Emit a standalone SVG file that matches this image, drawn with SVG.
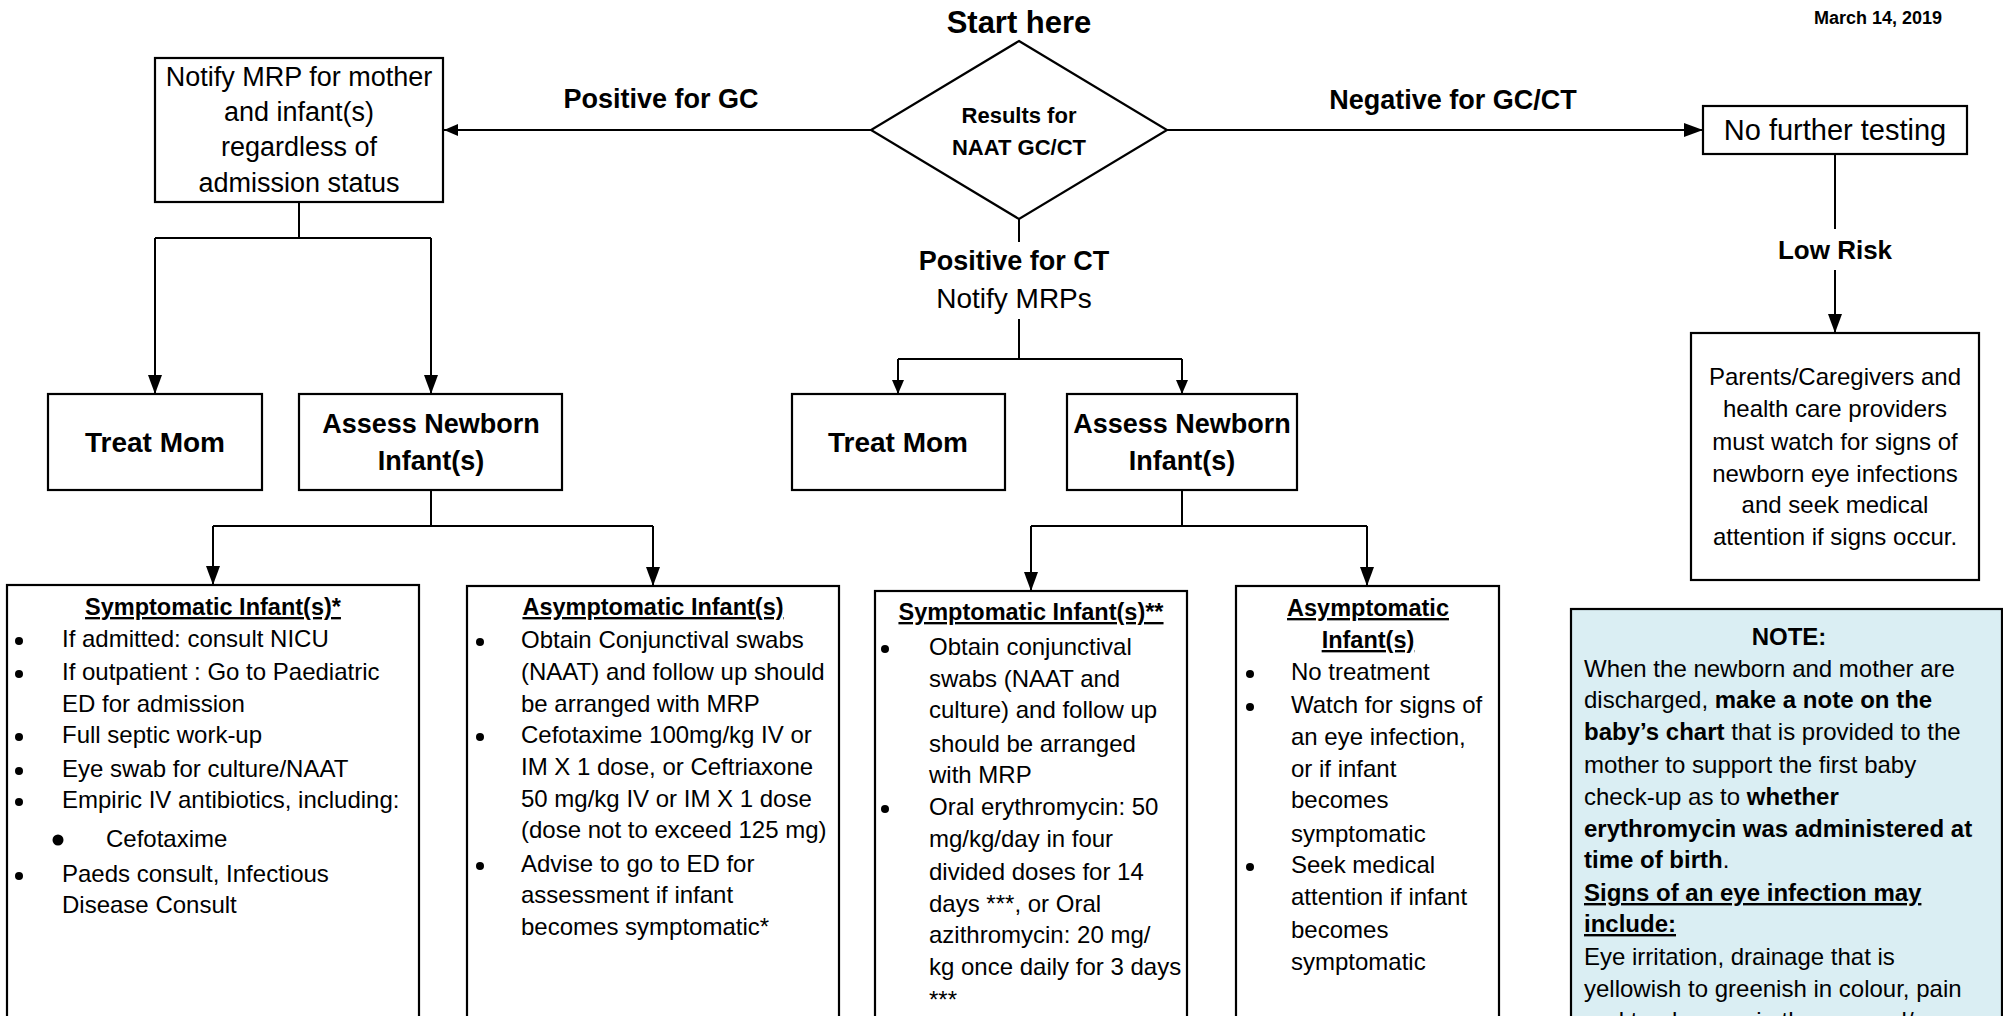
<svg xmlns="http://www.w3.org/2000/svg" width="2003" height="1016" viewBox="0 0 2003 1016">
<style>
text{font-family:"Liberation Sans",Arial,sans-serif;fill:#000;}
.box{fill:#fff;stroke:#000;stroke-width:2.2;}
.note{fill:#DAEEF3;stroke:#000;stroke-width:2.2;}
.ln{fill:none;stroke:#000;stroke-width:2;}
.bl{fill:#000;}
.c{text-anchor:middle;}
.b{font-weight:bold;}
.u{text-decoration:underline;}
.t24{font-size:24px;}
.lbl{font-size:27px;font-weight:bold;}
</style>
<defs>
<marker id="ah" markerUnits="userSpaceOnUse" markerWidth="19" markerHeight="14" viewBox="0 0 19 14" refX="19" refY="7" orient="auto"><path d="M0,0 L19,7 L0,14 z" fill="#000"/></marker>
<marker id="as" markerUnits="userSpaceOnUse" markerWidth="14" markerHeight="12" viewBox="0 0 14 12" refX="14" refY="6" orient="auto"><path d="M0,0 L14,6 L0,12 z" fill="#000"/></marker>
</defs>
<rect width="2003" height="1016" fill="#fff"/>

<text x="1942" y="24" class="b" style="font-size:18px;text-anchor:end">March 14, 2019</text>
<text x="1019" y="33" class="c b" style="font-size:31px">Start here</text>

<g id="connectors">
<line class="ln" x1="871" y1="130" x2="444" y2="130" marker-end="url(#as)"/>
<line class="ln" x1="1167" y1="130" x2="1703" y2="130" marker-end="url(#ah)"/>
<line class="ln" x1="1019" y1="219" x2="1019" y2="242"/>
<line class="ln" x1="1019" y1="319" x2="1019" y2="359"/>
<line class="ln" x1="898" y1="359" x2="1182" y2="359"/>
<line class="ln" x1="898" y1="359" x2="898" y2="394" marker-end="url(#as)"/>
<line class="ln" x1="1182" y1="359" x2="1182" y2="394" marker-end="url(#as)"/>
<line class="ln" x1="299" y1="202" x2="299" y2="238"/>
<line class="ln" x1="155" y1="238" x2="431" y2="238"/>
<line class="ln" x1="155" y1="238" x2="155" y2="394" marker-end="url(#ah)"/>
<line class="ln" x1="431" y1="238" x2="431" y2="394" marker-end="url(#ah)"/>
<line class="ln" x1="431" y1="490" x2="431" y2="526"/>
<line class="ln" x1="213" y1="526" x2="653" y2="526"/>
<line class="ln" x1="213" y1="526" x2="213" y2="585" marker-end="url(#ah)"/>
<line class="ln" x1="653" y1="526" x2="653" y2="586" marker-end="url(#ah)"/>
<line class="ln" x1="1182" y1="490" x2="1182" y2="526"/>
<line class="ln" x1="1031" y1="526" x2="1367" y2="526"/>
<line class="ln" x1="1031" y1="526" x2="1031" y2="591" marker-end="url(#ah)"/>
<line class="ln" x1="1367" y1="526" x2="1367" y2="586" marker-end="url(#ah)"/>
<line class="ln" x1="1835" y1="154" x2="1835" y2="229"/>
<line class="ln" x1="1835" y1="270" x2="1835" y2="333" marker-end="url(#ah)"/>
<text x="661" y="108" class="c lbl">Positive for GC</text>
<text x="1453" y="109" class="c lbl">Negative for GC/CT</text>
<text x="1014" y="270" class="c lbl">Positive for CT</text>
<text x="1014" y="308" class="c" style="font-size:28px">Notify MRPs</text>
<text x="1835" y="259" class="c b" style="font-size:26px">Low Risk</text>
</g>

<g id="decision">
<polygon class="box" points="1019,41 1167,130 1019,219 871,130"/>
<text x="1019" y="123" class="c b" style="font-size:22px">Results for</text>
<text x="1019" y="155" class="c b" style="font-size:22px">NAAT GC/CT</text>
</g>

<g id="notify-gc">
<rect class="box" x="155" y="58" width="288" height="144"/>
<text class="c" style="font-size:27px"><tspan x="299" y="86">Notify MRP for mother</tspan><tspan x="299" y="121">and infant(s)</tspan><tspan x="299" y="156">regardless of</tspan><tspan x="299" y="192">admission status</tspan></text>
</g>

<g id="no-further">
<rect class="box" x="1703" y="106" width="264" height="48"/>
<text x="1835" y="140" class="c" style="font-size:29px">No further testing</text>
</g>

<g id="parents">
<rect class="box" x="1691" y="333" width="288" height="247"/>
<text class="c t24"><tspan x="1835" y="385">Parents/Caregivers and</tspan><tspan x="1835" y="417">health care providers</tspan><tspan x="1835" y="450">must watch for signs of</tspan><tspan x="1835" y="482">newborn eye infections</tspan><tspan x="1835" y="513">and seek medical</tspan><tspan x="1835" y="545">attention if signs occur.</tspan></text>
</g>

<g id="treat-mom-gc">
<rect class="box" x="48" y="394" width="214" height="96"/>
<text x="155" y="452" class="c b" style="font-size:28px">Treat Mom</text>
</g>
<g id="assess-gc">
<rect class="box" x="299" y="394" width="263" height="96"/>
<text class="c b" style="font-size:27px"><tspan x="431" y="433">Assess Newborn</tspan><tspan x="431" y="470">Infant(s)</tspan></text>
</g>
<g id="treat-mom-ct">
<rect class="box" x="792" y="394" width="213" height="96"/>
<text x="898" y="452" class="c b" style="font-size:28px">Treat Mom</text>
</g>
<g id="assess-ct">
<rect class="box" x="1067" y="394" width="230" height="96"/>
<text class="c b" style="font-size:27px"><tspan x="1182" y="433">Assess Newborn</tspan><tspan x="1182" y="470">Infant(s)</tspan></text>
</g>

<g id="symptomatic-gc">
<rect class="box" x="7" y="585" width="412" height="460"/>
<text x="213" y="615" class="c b u" style="font-size:23.5px">Symptomatic Infant(s)*</text>
<circle class="bl" cx="19" cy="641" r="4"/><circle class="bl" cx="19" cy="674" r="4"/><circle class="bl" cx="19" cy="737" r="4"/><circle class="bl" cx="19" cy="771" r="4"/><circle class="bl" cx="19" cy="802" r="4"/><circle class="bl" cx="58" cy="840" r="5.5"/><circle class="bl" cx="19" cy="876" r="4"/>
<g class="t24">
<text x="62" y="647">If admitted: consult NICU</text>
<text x="62" y="680">If outpatient : Go to Paediatric</text>
<text x="62" y="712">ED for admission</text>
<text x="62" y="743">Full septic work-up</text>
<text x="62" y="777">Eye swab for culture/NAAT</text>
<text x="62" y="808">Empiric IV antibiotics, including:</text>
<text x="106" y="847">Cefotaxime</text>
<text x="62" y="882">Paeds consult, Infectious</text>
<text x="62" y="913">Disease Consult</text>
</g>
</g>

<g id="asymptomatic-gc">
<rect class="box" x="467" y="586" width="372" height="460"/>
<text x="653" y="615" class="c b u" style="font-size:23.5px">Asymptomatic Infant(s)</text>
<circle class="bl" cx="480" cy="642" r="4"/><circle class="bl" cx="480" cy="737" r="4"/><circle class="bl" cx="480" cy="866" r="4"/>
<g class="t24">
<text x="521" y="648">Obtain Conjunctival swabs</text>
<text x="521" y="680">(NAAT) and follow up should</text>
<text x="521" y="712">be arranged with MRP</text>
<text x="521" y="743">Cefotaxime 100mg/kg IV or</text>
<text x="521" y="775">IM X 1 dose, or Ceftriaxone</text>
<text x="521" y="807">50 mg/kg IV or IM X 1 dose</text>
<text x="521" y="838">(dose not to exceed 125 mg)</text>
<text x="521" y="872">Advise to go to ED for</text>
<text x="521" y="903">assessment if infant</text>
<text x="521" y="935">becomes symptomatic*</text>
</g>
</g>

<g id="symptomatic-ct">
<rect class="box" x="875" y="591" width="312" height="460"/>
<text x="1031" y="620" class="c b u" style="font-size:23.5px">Symptomatic Infant(s)**</text>
<circle class="bl" cx="885" cy="649" r="4"/><circle class="bl" cx="885" cy="809" r="4"/>
<g class="t24">
<text x="929" y="655">Obtain conjunctival</text>
<text x="929" y="687">swabs (NAAT and</text>
<text x="929" y="718">culture) and follow up</text>
<text x="929" y="752">should be arranged</text>
<text x="929" y="783">with MRP</text>
<text x="929" y="815">Oral erythromycin: 50</text>
<text x="929" y="847">mg/kg/day in four</text>
<text x="929" y="880">divided doses for 14</text>
<text x="929" y="912">days ***, or Oral</text>
<text x="929" y="943">azithromycin: 20 mg/</text>
<text x="929" y="975">kg once daily for 3 days</text>
<text x="929" y="1008">***</text>
</g>
</g>

<g id="asymptomatic-ct">
<rect class="box" x="1236" y="586" width="263" height="460"/>
<text class="c b u" style="font-size:23.5px"><tspan x="1368" y="616">Asymptomatic</tspan><tspan x="1368" y="648">Infant(s)</tspan></text>
<circle class="bl" cx="1250" cy="674" r="4"/><circle class="bl" cx="1250" cy="707" r="4"/><circle class="bl" cx="1250" cy="867" r="4"/>
<g class="t24">
<text x="1291" y="680">No treatment</text>
<text x="1291" y="713">Watch for signs of</text>
<text x="1291" y="745">an eye infection,</text>
<text x="1291" y="777">or if infant</text>
<text x="1291" y="808">becomes</text>
<text x="1291" y="842">symptomatic</text>
<text x="1291" y="873">Seek medical</text>
<text x="1291" y="905">attention if infant</text>
<text x="1291" y="938">becomes</text>
<text x="1291" y="970">symptomatic</text>
</g>
</g>

<g id="note">
<rect class="note" x="1571" y="609" width="431" height="440"/>
<text x="1789" y="645" class="c b t24">NOTE:</text>
<g class="t24">
<text x="1584" y="677">When the newborn and mother are</text>
<text x="1584" y="708">discharged, <tspan class="b">make a note on the</tspan></text>
<text x="1584" y="740"><tspan class="b">baby’s chart</tspan> that is provided to the</text>
<text x="1584" y="773">mother to support the first baby</text>
<text x="1584" y="805">check-up as to <tspan class="b">whether</tspan></text>
<text x="1584" y="837" class="b">erythromycin was administered at</text>
<text x="1584" y="868"><tspan class="b">time of birth</tspan>.</text>
<text x="1584" y="901" class="b u">Signs of an eye infection may</text>
<text x="1584" y="932" class="b u">include:</text>
<text x="1584" y="965">Eye irritation, drainage that is</text>
<text x="1584" y="997">yellowish to greenish in colour, pain</text>
<text x="1584" y="1029">and tenderness in the eye and/</text>
</g>
</g>
</svg>
